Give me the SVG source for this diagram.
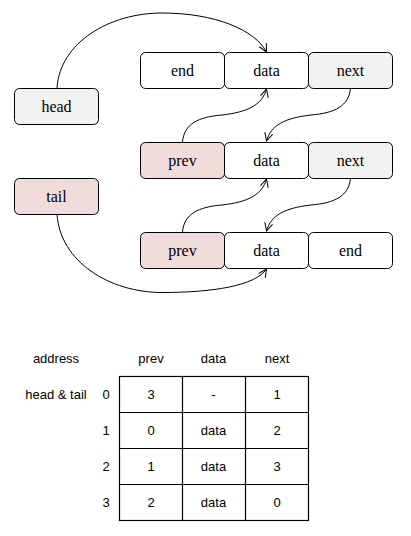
<svg xmlns="http://www.w3.org/2000/svg" width="411" height="536" viewBox="0 0 411 536">
<defs>
<marker id="arr" markerWidth="12" markerHeight="12" refX="9" refY="5" orient="auto" markerUnits="userSpaceOnUse">
<path d="M1,1 L9,5 L1,9" fill="none" stroke="#000" stroke-width="1"/>
</marker>
</defs>
<style>
.box{stroke:#000;stroke-width:1;fill:#fff}
.gray{fill:#f2f2f2}
.pink{fill:#f2dcdb}
.nt{font-family:"Liberation Serif",serif;font-size:16px;text-anchor:middle}
.tt{font-family:"Liberation Sans",Arial,sans-serif;font-size:13px;text-anchor:middle}
.cn{fill:none;stroke:#000;stroke-width:1;marker-end:url(#arr)}
.grid{fill:none;stroke:#000;stroke-width:1.2}
</style>
<rect width="411" height="536" fill="#fff"/>
<g id="head"><rect class="box gray" x="14.5" y="88.5" width="84" height="36" rx="5"/><text class="nt" x="56.5" y="112">head</text></g>
<g id="tail"><rect class="box pink" x="14.5" y="178.5" width="84" height="36" rx="5"/><text class="nt" x="56.5" y="202">tail</text></g>
<g id="n1">
<rect class="box" x="140.5" y="52.5" width="84" height="36" rx="5"/><text class="nt" x="182.5" y="76">end</text>
<rect class="box" x="224.5" y="52.5" width="84" height="36" rx="5"/><text class="nt" x="266.5" y="76">data</text>
<rect class="box gray" x="308.5" y="52.5" width="84" height="36" rx="5"/><text class="nt" x="350.5" y="76">next</text>
</g>
<g id="n2">
<rect class="box pink" x="140.5" y="142.5" width="84" height="36" rx="5"/><text class="nt" x="182.5" y="166">prev</text>
<rect class="box" x="224.5" y="142.5" width="84" height="36" rx="5"/><text class="nt" x="266.5" y="166">data</text>
<rect class="box gray" x="308.5" y="142.5" width="84" height="36" rx="5"/><text class="nt" x="350.5" y="166">next</text>
</g>
<g id="n3">
<rect class="box pink" x="140.5" y="232.5" width="84" height="36" rx="5"/><text class="nt" x="182.5" y="256">prev</text>
<rect class="box" x="224.5" y="232.5" width="84" height="36" rx="5"/><text class="nt" x="266.5" y="256">data</text>
<rect class="box" x="308.5" y="232.5" width="84" height="36" rx="5"/><text class="nt" x="350.5" y="256">end</text>
</g>
<g id="connectors">
<path class="cn" d="M57,88 C60,42 110,13 162,13 C215,13 255,30 266.5,52"/>
<path class="cn" d="M182.5,142 C184,124 198,117 222,115 C248,112 262,105 266.5,89"/>
<path class="cn" d="M350.5,88 C349,106 335,113 311,115 C285,118 271,125 266.5,141"/>
<path class="cn" d="M182.5,232 C184,214 198,207 222,205 C248,202 262,195 266.5,179"/>
<path class="cn" d="M350.5,178 C349,196 335,203 311,205 C285,208 271,215 266.5,231"/>
<path class="cn" d="M57,214 C60,262 110,292.5 162,292.5 C212,292.5 255,286 266.5,269"/>
</g>
<g id="table">
<text class="tt" x="56" y="363">address</text>
<text class="tt" x="151" y="363">prev</text>
<text class="tt" x="213.5" y="363">data</text>
<text class="tt" x="277" y="363">next</text>
<text class="tt" x="56" y="399">head &amp; tail</text>
<text class="tt" x="106" y="399">0</text>
<text class="tt" x="106" y="435">1</text>
<text class="tt" x="106" y="471">2</text>
<text class="tt" x="106" y="507">3</text>
<rect class="grid" x="119.5" y="376.5" width="189" height="144"/>
<path class="grid" d="M182.5,376.5 V520.5 M245.5,376.5 V520.5 M119.5,412.5 H308.5 M119.5,448.5 H308.5 M119.5,484.5 H308.5"/>
<text class="tt" x="151" y="399">3</text><text class="tt" x="213.5" y="399">-</text><text class="tt" x="277" y="399">1</text>
<text class="tt" x="151" y="435">0</text><text class="tt" x="213.5" y="435">data</text><text class="tt" x="277" y="435">2</text>
<text class="tt" x="151" y="471">1</text><text class="tt" x="213.5" y="471">data</text><text class="tt" x="277" y="471">3</text>
<text class="tt" x="151" y="507">2</text><text class="tt" x="213.5" y="507">data</text><text class="tt" x="277" y="507">0</text>
</g>
</svg>
